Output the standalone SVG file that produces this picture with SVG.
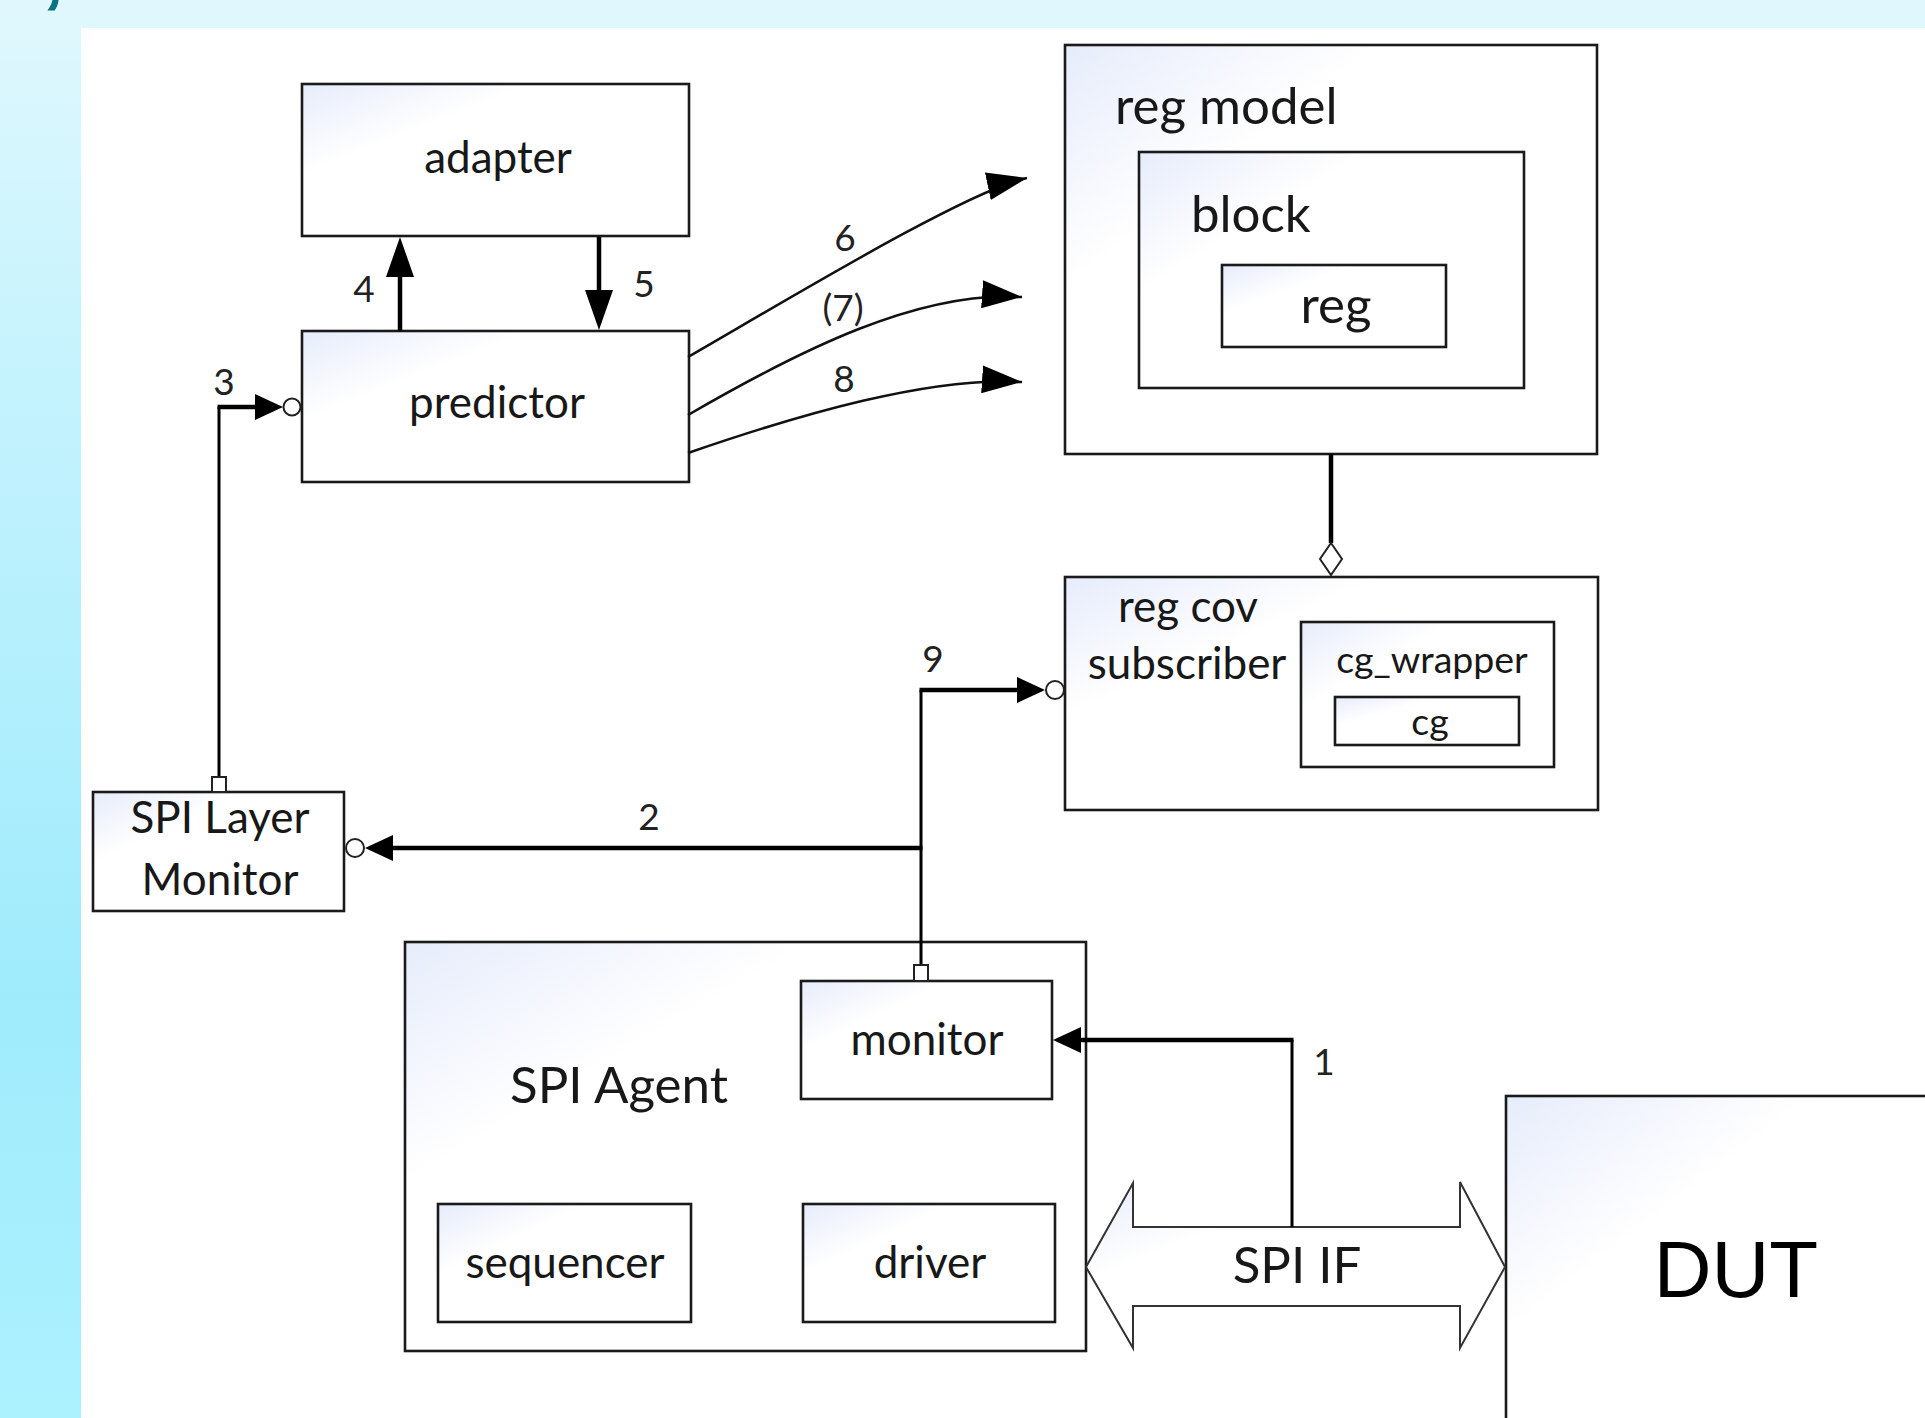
<svg xmlns="http://www.w3.org/2000/svg" width="1925" height="1418" viewBox="0 0 1925 1418">
<defs>
<linearGradient id="bg" x1="0" y1="0" x2="0" y2="1">
<stop offset="0" stop-color="#e0f8fd"/>
<stop offset="0.25" stop-color="#c6f3fd"/>
<stop offset="0.7" stop-color="#9febfc"/>
<stop offset="1" stop-color="#acf1fe"/>
</linearGradient>
<linearGradient id="boxfill" x1="0" y1="0" x2="1" y2="1">
<stop offset="0" stop-color="#e6ecfb"/>
<stop offset="0.3" stop-color="#ffffff"/>
<stop offset="1" stop-color="#ffffff"/>
</linearGradient>
<marker id="ahBig" markerUnits="userSpaceOnUse" markerWidth="40" markerHeight="28" refX="30" refY="14" orient="auto"><path d="M0,0 L40,14 L0,28 z" fill="#000"/></marker>
<marker id="ahMed" markerUnits="userSpaceOnUse" markerWidth="28" markerHeight="26" refX="20" refY="13" orient="auto"><path d="M0,0 L28,13 L0,26 z" fill="#000"/></marker>
<marker id="ahCurve" markerUnits="userSpaceOnUse" markerWidth="40" markerHeight="28" refX="40" refY="14" orient="auto"><path d="M0,0 L40,14 L0,28 z" fill="#000"/></marker>
</defs>
<style>
.box{fill:url(#boxfill);stroke:#1a1a1a;stroke-width:2.6}
.t{font-family:Lato,"Liberation Sans",sans-serif;fill:#181818}
.n{font-size:44px;text-anchor:middle}
.l{font-size:51px}
.s{font-size:37.5px;text-anchor:middle}
.num{font-family:Lato,"Liberation Sans",sans-serif;fill:#222;font-size:37px;text-anchor:middle}
.v{fill:none;stroke:#000;stroke-width:3}
.h{fill:none;stroke:#000;stroke-width:4.5}
.c{fill:none;stroke:#111;stroke-width:2.5}
.port{fill:#fff;stroke:#222;stroke-width:2}
</style>
<rect x="0" y="0" width="1925" height="1418" fill="url(#bg)"/>
<rect x="81" y="28" width="1844" height="1390" fill="#fff"/>
<text x="42" y="-2" font-family="'Liberation Sans',sans-serif" font-weight="bold" font-size="80" fill="#0a7282">,</text>

<g id="adapter"><rect class="box" x="302" y="84" width="387" height="152"/><text class="t n" x="498" y="173">adapter</text></g>
<g id="predictor"><rect class="box" x="302" y="331" width="387" height="151"/><text class="t n" x="497" y="418">predictor</text></g>
<g id="reg-model"><rect class="box" x="1065" y="45" width="532" height="409"/><text class="t l" x="1115" y="124">reg model</text>
<g id="block"><rect class="box" x="1139" y="152" width="385" height="236"/><text class="t l" x="1191" y="232">block</text>
<g id="reg"><rect class="box" x="1222" y="265" width="224" height="82"/><text class="t l" x="1336" y="323" text-anchor="middle">reg</text></g></g></g>
<g id="reg-cov-subscriber"><rect class="box" x="1065" y="577" width="533" height="233"/><text class="t n" x="1188" y="622">reg cov</text><text class="t n" x="1187" y="679">subscriber</text>
<g id="cg-wrapper"><rect class="box" x="1301" y="622" width="253" height="145"/><text class="t s" x="1432" y="673">cg_wrapper</text>
<g id="cg"><rect class="box" x="1335" y="697" width="184" height="48"/><text class="t s" x="1430" y="735">cg</text></g></g></g>
<g id="spi-layer-monitor"><rect class="box" x="93" y="792" width="251" height="119"/><text class="t n" x="220" y="833">SPI Layer</text><text class="t n" x="220" y="895">Monitor</text></g>
<g id="spi-agent"><rect class="box" x="405" y="942" width="681" height="409"/><text class="t l" x="619" y="1103" text-anchor="middle">SPI Agent</text>
<g id="monitor"><rect class="box" x="801" y="981" width="251" height="118"/><text class="t n" x="927" y="1055">monitor</text></g>
<g id="sequencer"><rect class="box" x="438" y="1204" width="253" height="118"/><text class="t n" x="565" y="1278">sequencer</text></g>
<g id="driver"><rect class="box" x="803" y="1204" width="252" height="118"/><text class="t n" x="930" y="1278">driver</text></g></g>
<g id="dut"><rect class="box" x="1506" y="1096" width="520" height="400"/><text x="1736" y="1297" font-family="'Liberation Sans',sans-serif" font-size="80" fill="#000" text-anchor="middle">DUT</text></g>
<g id="spi-if"><polygon points="1086,1267 1133,1183 1133,1227 1460,1227 1460,1182 1505,1267 1460,1348 1460,1306 1133,1306 1133,1348" fill="url(#boxfill)" stroke="#333" stroke-width="2"/><text class="t l" x="1297" y="1283" text-anchor="middle">SPI IF</text></g>

<g id="connectors">
<path class="h" d="M400,331 V247" marker-end="url(#ahBig)"/>
<path class="h" d="M599,237 V320" marker-end="url(#ahBig)"/>
<path class="v" d="M219,777 V407"/>
<path class="h" d="M217.5,407 H275" marker-end="url(#ahMed)"/>
<circle class="port" cx="292" cy="407" r="8.5"/>
<rect class="port" x="212" y="777" width="14" height="15"/>
<path class="c" d="M688,357 C792,297 968,190.5 1027,178" marker-end="url(#ahCurve)"/>
<path class="c" d="M688,415 C800,350 920,290 1022,297" marker-end="url(#ahCurve)"/>
<path class="c" d="M688,453 C798,415 930,376 1022,382" marker-end="url(#ahCurve)"/>
<path class="h" d="M1331,454 V543"/>
<polygon points="1331,543 1342,559 1331,575 1320,559" fill="#fff" stroke="#222" stroke-width="2"/>
<path class="v" d="M921,965 V690"/>
<path class="h" d="M919.5,690 H1037" marker-end="url(#ahMed)"/>
<circle class="port" cx="1055" cy="690" r="9"/>
<path class="h" d="M922.5,848 H373" marker-end="url(#ahMed)"/>
<circle class="port" cx="355" cy="848" r="9"/>
<rect class="port" x="914" y="965" width="14" height="16"/>
<path class="v" d="M1292,1227 V1040"/>
<path class="h" d="M1293.5,1040 H1061" marker-end="url(#ahMed)"/>
<text class="num" x="364" y="302">4</text>
<text class="num" x="644" y="297">5</text>
<text class="num" x="224" y="395">3</text>
<text class="num" x="845" y="251">6</text>
<text class="num" x="843" y="321">(7)</text>
<text class="num" x="844" y="392">8</text>
<text class="num" x="933" y="672">9</text>
<text class="num" x="649" y="830">2</text>
<text class="num" x="1324" y="1075">1</text>
</g>
</svg>
